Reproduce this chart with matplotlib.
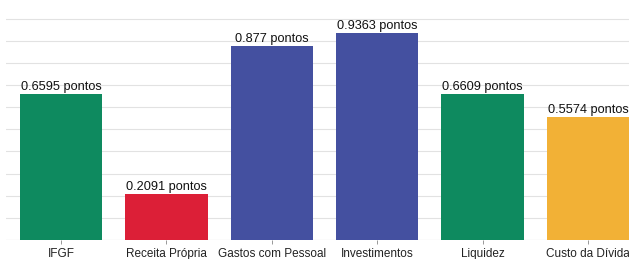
import matplotlib
matplotlib.use("Agg")
import matplotlib.pyplot as plt

categories = ["IFGF", "Receita Própria", "Gastos com Pessoal", "Investimentos", "Liquidez", "Custo da Dívida"]
values = [0.6595, 0.2091, 0.877, 0.9363, 0.6609, 0.5574]
value_labels = ["0.6595 pontos", "0.2091 pontos", "0.877 pontos", "0.9363 pontos", "0.6609 pontos", "0.5574 pontos"]
colors = ["#0e8a5f", "#dc1f37", "#4450a0", "#4450a0", "#0e8a5f", "#f2b136"]

plt.rcParams['font.family'] = ['Liberation Sans', 'DejaVu Sans']

W, H = 629, 259
fig = plt.figure(figsize=(W / 100, H / 100), dpi=100)
ax = fig.add_axes([6 / W, 19 / H, 623 / W, 240 / H])

x = list(range(len(categories)))
ax.bar(x, values, width=0.78, color=colors, zorder=3)
for xi, v, lab in zip(x, values, value_labels):
    ax.text(xi, v + 0.002, lab, ha='center', va='bottom', fontsize=9.2, color='#111111', zorder=4)

step = 105.4
left = -(61 - 6) / step
ax.set_xlim(left, left + 623 / step)
ax.set_ylim(0, 240 / 221.5)
ax.set_yticks([i / 10 for i in range(11)])
ax.yaxis.grid(True, color='#e2e2e2', linewidth=0.8, zorder=0)
ax.tick_params(axis='y', left=False, labelleft=False)
ax.set_xticks(x)
ax.set_xticklabels(categories, fontsize=8.5)
ax.tick_params(axis='x', length=3, width=0.6, color='#888888', pad=2.5, labelcolor='#222222')
for s in ax.spines.values():
    s.set_visible(False)
ax.axhline(0, color='#dddddd', linewidth=0.8, zorder=2)

fig.savefig("out.png", dpi=100)
